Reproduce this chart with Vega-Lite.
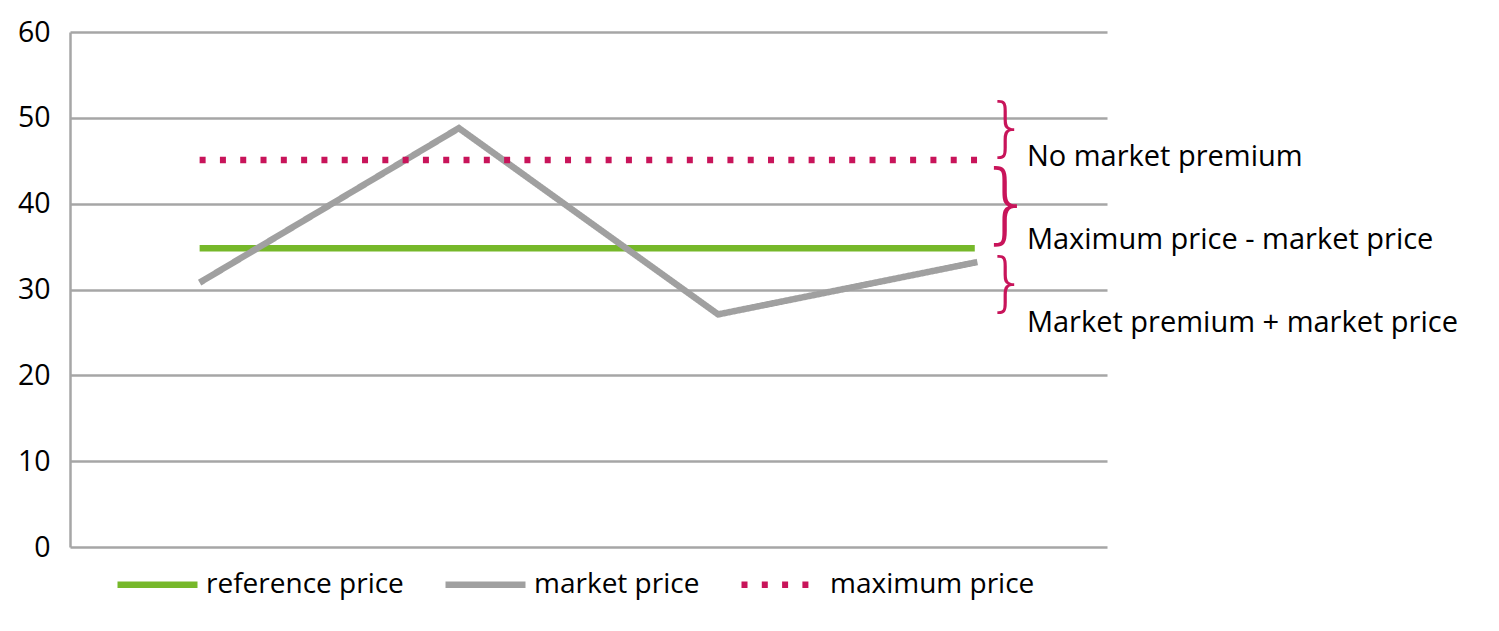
{
  "$schema": "https://vega.github.io/schema/vega-lite/v6.json",
  "width": 1037,
  "height": 515,
  "autosize": {"type": "none"},
  "padding": {"left": 70, "top": 32, "right": 392, "bottom": 84},
  "background": "white",
  "config": {
    "view": {"stroke": null},
    "font": "Open Sans",
    "axis": {"labelFont": "Open Sans"},
    "legend": {"labelFont": "Open Sans"}
  },
  "datasets": {
    "lines": [
      {"series": "reference price", "x": 0.5, "price": 34.8},
      {"series": "reference price", "x": 3.49, "price": 34.8},
      {"series": "market price", "x": 0.5, "price": 30.8},
      {"series": "market price", "x": 1.5, "price": 48.8},
      {"series": "market price", "x": 2.5, "price": 27.1},
      {"series": "market price", "x": 3.5, "price": 33.2},
      {"series": "maximum price", "x": 0.5, "price": 45.1},
      {"series": "maximum price", "x": 3.5, "price": 45.1}
    ],
    "braces": [
      {"label": "No market premium", "brace": 48.5, "span": 7.3, "labelY": 45.4},
      {"label": "Maximum price - market price", "brace": 39.6, "span": 10, "labelY": 35.8},
      {"label": "Market premium + market price", "brace": 30.4, "span": 7.3, "labelY": 26.1}
    ]
  },
  "layer": [
    {
      "data": {"name": "lines"},
      "mark": {"type": "line", "strokeWidth": 6.5, "clip": false},
      "encoding": {
        "x": {"field": "x", "type": "quantitative", "scale": {"domain": [0, 4], "nice": false}, "axis": null},
        "y": {
          "field": "price", "type": "quantitative",
          "scale": {"domain": [0, 60], "nice": false},
          "axis": {
            "title": null, "values": [0, 10, 20, 30, 40, 50, 60],
            "grid": true, "gridColor": "#a6a6a6", "gridWidth": 2.5,
            "domainColor": "#a6a6a6", "domainWidth": 2.5,
            "ticks": false, "labelPadding": 20,
            "labelFontSize": 28.5, "labelColor": "#000000"
          }
        },
        "color": {
          "field": "series", "type": "nominal",
          "scale": {"domain": ["reference price", "market price", "maximum price"], "range": ["#76b82a", "#a0a0a0", "#c8145a"]},
          "legend": {
            "title": null, "orient": "none", "direction": "horizontal",
            "legendX": 44, "legendY": 509,
            "symbolType": "stroke", "symbolSize": 6400, "symbolStrokeWidth": 6.5,
            "labelFontSize": 28, "labelColor": "#000000", "labelOffset": 5, "labelLimit": 400,
            "columnPadding": 28
          }
        },
        "strokeDash": {
          "field": "series", "type": "nominal",
          "scale": {"domain": ["reference price", "market price", "maximum price"], "range": [[1, 0], [1, 0], [6, 14.3]]},
          "legend": null
        },
        "order": {"field": "x", "type": "quantitative"}
      }
    },
    {
      "data": {"name": "braces"},
      "mark": {"type": "text", "text": "}", "align": "center", "baseline": "middle", "color": "#c8145a", "font": "DejaVu Sans", "fontWeight": 200, "dy": -1},
      "encoding": {
        "x": {"datum": 3.614, "type": "quantitative"},
        "y": {"field": "brace", "type": "quantitative"},
        "size": {"field": "span", "type": "quantitative", "scale": {"domain": [0, 10], "range": [0, 88]}, "legend": null}
      }
    },
    {
      "data": {"name": "braces"},
      "mark": {"type": "text", "align": "left", "baseline": "middle", "color": "#000000", "fontSize": 29},
      "encoding": {
        "x": {"datum": 3.691, "type": "quantitative"},
        "y": {"field": "labelY", "type": "quantitative"},
        "text": {"field": "label"}
      }
    }
  ]
}
